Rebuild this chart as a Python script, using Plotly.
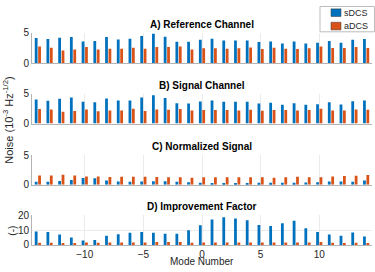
import plotly.graph_objects as go

modes = list(range(-14, 15))

ref_sdcs = [4.13, 3.97, 4.18, 4.29, 3.59, 3.64, 4.29, 3.91, 4.02, 4.46, 4.84, 4.35, 3.53,
            3.53, 3.86, 4.02, 3.75, 3.75, 3.75, 3.48, 3.59, 3.26, 3.59, 3.26, 3.37, 3.64, 3.37, 3.86, 3.97]
ref_adcs = [2.77, 2.55, 2.12, 2.28, 2.66, 2.28, 2.39, 2.39, 2.55, 2.39, 2.66, 2.66, 2.77,
            2.28, 2.45, 2.45, 2.39, 2.45, 2.61, 2.34, 2.55, 2.39, 2.34, 2.45, 2.77, 2.5, 2.5, 2.66, 2.5]

sig_sdcs = [4.06, 3.83, 4.17, 4.39, 3.67, 3.61, 4.22, 3.89, 3.89, 4.39, 4.78, 4.33, 3.44,
            3.39, 3.72, 3.89, 3.67, 3.67, 3.67, 3.39, 3.5, 3.17, 3.44, 3.17, 3.28, 3.61, 3.22, 3.78, 3.89]
sig_adcs = [2.44, 2.39, 2.0, 2.11, 2.39, 2.06, 2.22, 2.22, 2.5, 2.11, 2.39, 2.33, 2.44,
            2.22, 2.28, 2.28, 2.28, 2.22, 2.33, 2.17, 2.28, 2.28, 2.22, 2.28, 2.5, 2.22, 2.22, 2.39, 2.33]

norm_sdcs = [0.49, 0.49, 0.65, 0.82, 1.14, 1.09, 0.71, 0.54, 0.49, 0.54, 0.6, 0.6, 0.49,
             0.43, 0.33, 0.27, 0.27, 0.27, 0.27, 0.33, 0.33, 0.33, 0.33, 0.38, 0.43, 0.54, 0.54, 0.49, 0.71]
norm_adcs = [1.58, 1.58, 1.68, 1.58, 1.41, 1.41, 1.3, 1.36, 1.36, 1.36, 1.3, 1.25, 1.25,
             1.2, 1.25, 1.25, 1.25, 1.25, 1.25, 1.25, 1.2, 1.25, 1.36, 1.25, 1.25, 1.41, 1.47, 1.52, 1.63]

imp_sdcs = [9.1, 8.7, 7.0, 5.0, 3.0, 3.3, 6.3, 7.2, 8.3, 8.7, 8.3, 7.6, 7.6,
            10.0, 13.3, 17.2, 18.7, 17.8, 16.7, 13.5, 12.8, 14.6, 16.3, 11.3, 8.7, 7.0, 6.3, 8.5, 5.7]
imp_adcs = [1.5, 1.5, 1.3, 1.3, 1.7, 1.5, 1.7, 1.7, 1.7, 1.7, 2.0, 2.0, 2.0,
            1.5, 1.7, 1.7, 1.7, 1.7, 1.7, 1.7, 1.7, 1.7, 1.7, 1.7, 2.0, 1.5, 1.3, 1.5, 1.3]

panel_titles = ["A) Reference Channel", "B) Signal Channel", "C) Normalized Signal", "D) Improvement Factor"]
series_names = ["sDCS", "aDCS"]
x_ticks = [-10, -5, 0, 5, 10]

BLUE = "#0072BD"
ORANGE = "#D95319"
FONT = "Liberation Sans, Arial, Helvetica, sans-serif"
TXT = "#262626"
W, H = 375, 272

panels = [(ref_sdcs, ref_adcs), (sig_sdcs, sig_adcs), (norm_sdcs, norm_adcs), (imp_sdcs, imp_adcs)]
px_rows = [(28, 60), (92, 123), (156, 187), (219, 250)]
x_dom = [32 / W, 372 / W]


def px(xp, yp):
    return xp / W, 1 - yp / H


fig = go.Figure()
layout = dict(
    width=W, height=H,
    margin=dict(l=0, r=0, t=0, b=0),
    paper_bgcolor="white", plot_bgcolor="white",
    barmode="group", bargap=0.42, bargroupgap=0.18,
    font=dict(family=FONT, size=10, color=TXT),
    showlegend=False,
)

annotations = []
shapes = []
for i, ((s, a), (top, bot)) in enumerate(zip(panels, px_rows)):
    k = "" if i == 0 else str(i + 1)
    xa, ya = "x" + k, "y" + k
    fig.add_trace(go.Bar(x=modes, y=s, name=series_names[0], marker=dict(color=BLUE, line=dict(width=0)),
                         xaxis=xa, yaxis=ya))
    fig.add_trace(go.Bar(x=modes, y=a, name=series_names[1], marker=dict(color=ORANGE, line=dict(width=0)),
                         xaxis=xa, yaxis=ya))
    is_last = i == 3
    ymax = 20 if is_last else 5
    yt = [0, 10, 20] if is_last else [0, 5]
    layout["xaxis" + k] = dict(
        domain=x_dom, anchor=ya, range=[-14.5, 14.5],
        tickvals=x_ticks, showticklabels=is_last,
        showgrid=True, gridcolor="#ebebeb", gridwidth=1,
        showline=True, linecolor="#b4b4b4", linewidth=1,
        ticks="", zeroline=False,
        tickfont=dict(size=10, family=FONT, color=TXT),
    )
    layout["yaxis" + k] = dict(
        domain=[1 - bot / H, 1 - top / H], anchor=xa, range=[0, ymax],
        tickvals=yt, showgrid=True, gridcolor="#ebebeb", gridwidth=1,
        showline=True, linecolor="#b4b4b4", linewidth=1,
        ticks="", zeroline=False,
        tickfont=dict(size=10, family=FONT, color=TXT),
    )
    annotations.append(dict(
        text="<b>" + panel_titles[i] + "</b>", xref="paper", yref="paper",
        x=(x_dom[0] + x_dom[1]) / 2, y=1 - (top - 1) / H, xanchor="center", yanchor="bottom",
        showarrow=False, font=dict(size=10, family=FONT, color="#000000"),
    ))

# axis labels
annotations.append(dict(
    text="Noise (10<sup>-3</sup> Hz<sup>-1/2</sup>)", xref="paper", yref="paper",
    x=8 / W, y=1 - 120 / H, xanchor="center", yanchor="middle", textangle=-90,
    showarrow=False, font=dict(size=11, family=FONT, color=TXT),
))
annotations.append(dict(
    text="(-)", xref="paper", yref="paper",
    x=13 / W, y=1 - 235 / H, xanchor="center", yanchor="middle", textangle=-90,
    showarrow=False, font=dict(size=10, family=FONT, color=TXT),
))
annotations.append(dict(
    text="Mode Number", xref="paper", yref="paper",
    x=(x_dom[0] + x_dom[1]) / 2, y=1 - 267 / H, xanchor="center", yanchor="middle",
    showarrow=False, font=dict(size=10, family=FONT, color=TXT),
))

# legend box (drawn manually for compact MATLAB-like look)
x0, y0 = px(320, 0.5)
x1, y1 = px(374.5, 27)
shapes.append(dict(type="rect", xref="paper", yref="paper", x0=x0, y0=y1, x1=x1, y1=y0,
                   line=dict(color="#bdbdbd", width=1), fillcolor="white", layer="above"))
for j, (name, col, yc) in enumerate(zip(series_names, [BLUE, ORANGE], [7, 21])):
    sx0, sy0 = px(331, yc - 4)
    sx1, sy1 = px(341, yc + 4)
    shapes.append(dict(type="rect", xref="paper", yref="paper", x0=sx0, y0=sy1, x1=sx1, y1=sy0,
                       line=dict(color="#3a3a3a", width=0.5), fillcolor=col, layer="above"))
    tx, ty = px(342, yc)
    annotations.append(dict(text=name, xref="paper", yref="paper", x=tx, y=ty,
                            xanchor="left", yanchor="middle", showarrow=False,
                            font=dict(size=9, family=FONT, color=TXT)))

layout["annotations"] = annotations
layout["shapes"] = shapes
fig.update_layout(**layout)
fig.write_html(
    "out.html",
    config={"displayModeBar": False},
    post_script="document.body.style.margin='0px';document.body.style.padding='0px';"
                "document.body.style.overflow='hidden';document.documentElement.style.overflow='hidden';",
)
